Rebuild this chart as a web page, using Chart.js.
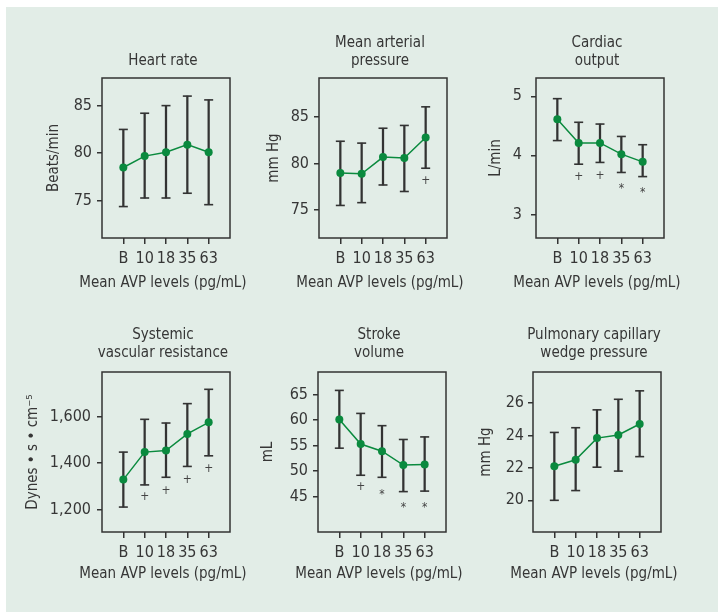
<!DOCTYPE html>
<html>
<head>
<meta charset="utf-8">
<script src="https://cdn.jsdelivr.net/npm/chart.js@4.4.1/dist/chart.umd.min.js"></script>
<style>
  body { margin: 0; background: #fff; width: 718px; height: 613px; overflow: hidden; position: relative; }
  #bg { position: absolute; left: 6px; top: 7px; right: 0; bottom: 1px; background: #e2ede7; }
  canvas { position: absolute; }
</style>
</head>
<body>
<div id="bg"></div>
<canvas id="hr" width="282" height="282"></canvas>
<canvas id="map" width="282" height="282"></canvas>
<canvas id="co" width="282" height="282"></canvas>
<canvas id="svr" width="282" height="282"></canvas>
<canvas id="sv" width="282" height="282"></canvas>
<canvas id="pcwp" width="282" height="282"></canvas>
<script>
const levels = ['B', '10', '18', '35', '63'];

// Heart rate
const hrMean = [78.5, 79.7, 80.1, 80.9, 80.1];
const hrLow  = [74.4, 75.3, 75.3, 75.8, 74.6];
const hrHigh = [82.5, 84.2, 85.0, 86.0, 85.6];
const hrTicks = [75, 80, 85];

// Mean arterial pressure
const mapMean = [79.0, 78.9, 80.7, 80.6, 82.8];
const mapLow  = [75.5, 75.8, 77.7, 77.0, 79.5];
const mapHigh = [82.4, 82.2, 83.8, 84.1, 86.1];
const mapTicks = [75, 80, 85];
const mapMarks = ['', '', '', '', '+'];
const mapMarkY = [null, null, null, null, 78.1];

// Cardiac output
const coMean = [4.61, 4.21, 4.21, 4.02, 3.89];
const coLow  = [4.25, 3.85, 3.88, 3.71, 3.64];
const coHigh = [4.96, 4.56, 4.53, 4.32, 4.18];
const coTicks = [3, 4, 5];
const coMarks = ['', '+', '+', '*', '*'];
const coMarkY = [null, 3.63, 3.66, 3.48, 3.41];

// Systemic vascular resistance
const svrMean = [1329, 1448, 1455, 1527, 1577];
const svrLow  = [1210, 1306, 1339, 1386, 1432];
const svrHigh = [1448, 1590, 1574, 1658, 1720];
const svrTicks = [1200, 1400, 1600];
const svrMarks = ['', '+', '+', '+', '+'];
const svrMarkY = [null, 1253, 1282, 1329, 1377];

// Stroke volume
const svMean = [60.1, 55.3, 53.9, 51.2, 51.3];
const svLow  = [54.5, 49.2, 48.8, 46.0, 46.1];
const svHigh = [65.8, 61.3, 58.9, 56.2, 56.7];
const svTicks = [45, 50, 55, 60, 65];
const svMarks = ['', '+', '*', '*', '*'];
const svMarkY = [null, 46.9, 46.0, 43.4, 43.4];

// Pulmonary capillary wedge pressure
const pcMean = [22.1, 22.5, 23.83, 24.02, 24.7];
const pcLow  = [20.0, 20.6, 22.04, 21.8, 22.69];
const pcHigh = [24.18, 24.47, 25.57, 26.22, 26.74];
const pcTicks = [20, 22, 24, 26];

const FAMILY = '"DejaVu Sans Condensed", "DejaVu Sans", sans-serif';
const INK = '#363636';
const GREEN = '#0a8a3e';

Chart.defaults.font.family = FAMILY;
Chart.defaults.font.size = 15;
Chart.defaults.color = INK;

// full frame round the plot area
const boxPlugin = {
  id: 'box',
  beforeDatasetsDraw(chart) {
    const { ctx, chartArea: a } = chart;
    ctx.save();
    ctx.strokeStyle = '#333';
    ctx.lineWidth = 1.5;
    ctx.strokeRect(a.left, a.top, a.right - a.left, a.bottom - a.top);
    ctx.restore();
  }
};

// + and * significance marks under the bars
const marksPlugin = {
  id: 'marks',
  afterDatasetsDraw(chart, args, opts) {
    if (!opts.text) return;
    const { ctx, scales: { x, y } } = chart;
    ctx.save();
    ctx.font = '12px ' + FAMILY;
    ctx.fillStyle = '#444';
    ctx.textAlign = 'center';
    ctx.textBaseline = 'middle';
    opts.text.forEach((t, i) => {
      if (!t) return;
      const shift = t === '*' ? 3 : 0;
      ctx.fillText(t, x.getPixelForValue(i + 1), y.getPixelForValue(opts.y[i]) + shift);
    });
    ctx.restore();
  }
};

function makePanel(id, p) {
  const el = document.getElementById(id);
  el.style.left = (p.boxLeft - 80) + 'px';
  el.style.top = (p.boxTop - 60) + 'px';

  const pts = arr => arr.map((v, i) => ({ x: i + 1, y: v }));

  new Chart(el, {
    type: 'line',
    data: {
      datasets: [
        {
          type: 'line',
          data: pts(p.mean),
          borderColor: GREEN,
          borderWidth: 1.5,
          pointRadius: 4,
          pointBackgroundColor: GREEN,
          pointBorderColor: GREEN,
          pointBorderWidth: 0,
          tension: 0,
          order: 0
        },
        {
          type: 'bar',
          data: p.low.map((v, i) => ({ x: i + 1, y: [v, p.high[i]] })),
          backgroundColor: '#333',
          borderWidth: 0,
          barThickness: 1.6,
          order: 2
        },
        {
          type: 'scatter',
          data: p.low.flatMap((v, i) => [{ x: i + 1, y: v }, { x: i + 1, y: p.high[i] }]),
          showLine: false,
          pointStyle: 'line',
          pointRadius: 4.5,
          pointBorderWidth: 1.6,
          pointBorderColor: '#333',
          order: 1
        }
      ]
    },
    options: {
      responsive: false,
      animation: false,
      devicePixelRatio: 1,
      layout: { padding: 0 },
      plugins: {
        legend: { display: false },
        tooltip: { enabled: false },
        title: {
          display: true,
          text: p.title,
          color: INK,
          font: { size: 15, weight: 'normal', lineHeight: '18.5px' },
          padding: p.titlePad
        },
        subtitle: {
          display: true,
          position: 'bottom',
          text: 'Mean AVP levels (pg/mL)',
          color: INK,
          font: { size: 15, lineHeight: '18.5px' },
          padding: p.xTitlePad
        },
        marks: { text: p.marks, y: p.markY }
      },
      scales: {
        x: {
          type: 'linear',
          min: 0,
          max: 6,
          offset: false,
          border: { display: false },
          grid: { display: true, offset: false, drawOnChartArea: false, drawTicks: true, tickLength: 6, color: '#333', lineWidth: 1.5 },
          afterBuildTicks: s => { s.ticks = levels.map((l, i) => ({ value: i + 1 })); },
          afterFit: s => { s.height = 30; },
          ticks: {
            autoSkip: false,
            maxRotation: 0,
            padding: p.xTickPad,
            color: INK,
            font: { size: 16 },
            callback: (v, i) => levels[i]
          }
        },
        y: {
          type: 'linear',
          min: p.yMin,
          max: p.yMax,
          border: { display: false },
          grid: { display: true, drawOnChartArea: false, drawTicks: true, tickLength: 5, color: '#333', lineWidth: 1.5 },
          afterBuildTicks: s => { s.ticks = p.ticks.map(v => ({ value: v })); },
          afterFit: s => { s.width = 80; },
          ticks: {
            padding: p.tickPad,
            color: INK,
            font: { size: 16 },
            callback: v => v.toLocaleString('en-US')
          },
          title: {
            display: true,
            text: p.yTitle,
            color: INK,
            font: { size: 15 },
            padding: { top: p.yTitlePad, bottom: 0 }
          }
        },
        // empty right-hand strip so titles centre over the plot box
        yPad: {
          type: 'linear',
          position: 'right',
          display: true,
          border: { display: false },
          grid: { display: false },
          ticks: { display: false },
          afterFit: s => { s.width = 74; }
        }
      }
    },
    plugins: [boxPlugin, marksPlugin]
  });
}

const row1Title = { top: 15.55, bottom: 7.45 };
const row2Title = { top: 13.85, bottom: 9.15 };
const row1X = { top: 5.75, bottom: 7.75 };
const row2X = { top: 3.05, bottom: 10.45 };

makePanel('hr', {
  boxLeft: 102, boxTop: 78,
  title: ['Heart rate'], titlePad: { top: 34.05, bottom: 7.45 }, xTitlePad: row1X, xTickPad: 5,
  mean: hrMean, low: hrLow, high: hrHigh, ticks: hrTicks,
  yMin: 71.1, yMax: 87.9, yTitle: 'Beats/min', yTitlePad: 23.5, tickPad: 5
});
makePanel('map', {
  boxLeft: 319, boxTop: 78,
  title: ['Mean arterial', 'pressure'], titlePad: row1Title, xTitlePad: row1X, xTickPad: 5,
  mean: mapMean, low: mapLow, high: mapHigh, ticks: mapTicks, marks: mapMarks, markY: mapMarkY,
  yMin: 72.0, yMax: 89.2, yTitle: 'mm Hg', yTitlePad: 26.2, tickPad: 5
});
makePanel('co', {
  boxLeft: 536, boxTop: 78,
  title: ['Cardiac', 'output'], titlePad: row1Title, xTitlePad: row1X, xTickPad: 5,
  mean: coMean, low: coLow, high: coHigh, ticks: coTicks, marks: coMarks, markY: coMarkY,
  yMin: 2.6, yMax: 5.31, yTitle: 'L/min', yTitlePad: 30.8, tickPad: 9
});
makePanel('svr', {
  boxLeft: 102, boxTop: 372,
  title: ['Systemic', 'vascular resistance'], titlePad: row2Title, xTitlePad: row2X, xTickPad: 5.5,
  mean: svrMean, low: svrLow, high: svrHigh, ticks: svrTicks, marks: svrMarks, markY: svrMarkY,
  yMin: 1102, yMax: 1795, yTitle: 'Dynes \u2022 s \u2022 cm\u207B\u2075', yTitlePad: 2.5, tickPad: 6
});
makePanel('sv', {
  boxLeft: 318, boxTop: 372,
  title: ['Stroke', 'volume'], titlePad: row2Title, xTitlePad: row2X, xTickPad: 5.5,
  mean: svMean, low: svLow, high: svHigh, ticks: svTicks, marks: svMarks, markY: svMarkY,
  yMin: 38.1, yMax: 69.4, yTitle: 'mL', yTitlePad: 21.5, tickPad: 5
});
makePanel('pcwp', {
  boxLeft: 533, boxTop: 372,
  title: ['Pulmonary capillary', 'wedge pressure'], titlePad: row2Title, xTitlePad: row2X, xTickPad: 5.5,
  mean: pcMean, low: pcLow, high: pcHigh, ticks: pcTicks,
  yMin: 18.05, yMax: 27.9, yTitle: 'mm Hg', yTitlePad: 24.5, tickPad: 4
});
</script>
</body>
</html>
